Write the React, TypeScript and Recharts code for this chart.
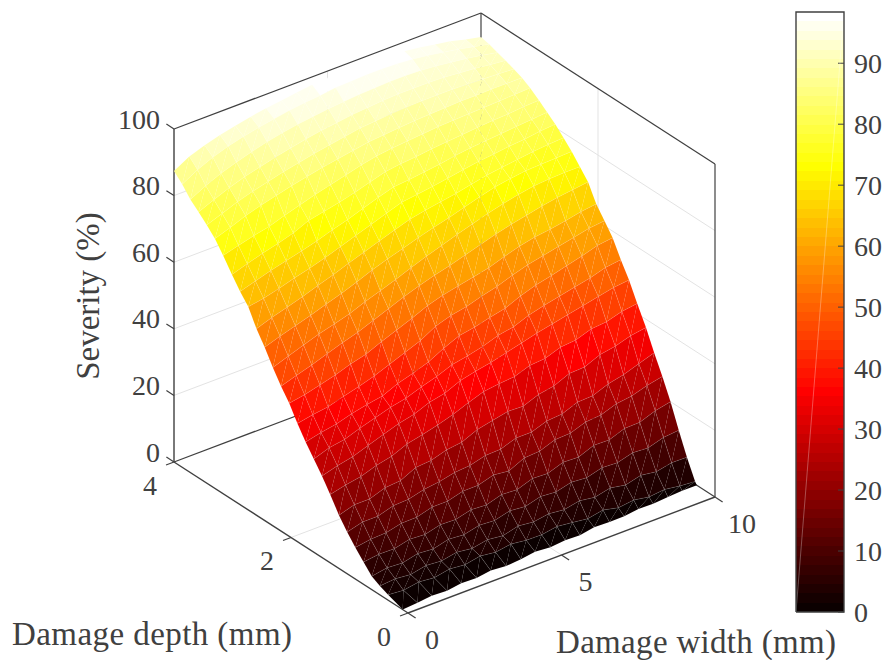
import { Bar, BarChart, Scatter, ScatterChart, XAxis, YAxis } from "recharts"

const FONT = "Liberation Serif"
const INK = "#404040"
const GRID = "#e3e3e3"

// damage width (mm), one per column of the surface
const widths = [0, 0.5, 1, 1.5, 2, 2.5, 3, 3.5, 4, 4.5, 5, 5.5, 6, 6.5, 7, 7.5, 8, 8.5, 9, 9.5, 10]
// damage depth (mm), one per row; the first row uses frontDepths instead
const depths = [0.2, 0.34, 0.48, 0.62, 0.76, 0.9, 1.04, 1.18, 1.33, 1.47, 1.61, 1.75, 1.89, 2.03, 2.17, 2.31, 2.45, 2.59, 2.73, 2.87, 3.01, 3.16, 3.3, 3.44, 3.58, 3.72, 3.86, 4]
const frontDepths = [0.09, 0.1, 0.12, 0.12, 0.14, 0.14, 0.16, 0.16, 0.17, 0.19, 0.19, 0.2, 0.21, 0.23, 0.23, 0.24, 0.26, 0.27, 0.28, 0.3, 0.31]

// severity (%), rows follow depths, columns follow widths
const severity = [
  [0, 0.2, 0.3, 0.1, 0.4, 0.2, 0.5, 0.1, 0.3, 0.6, 0.2, 0.4, 0.1, 0.5, 0.3, 0.2, 0.4, 0.1, 0.3, 0.2, 0],
  [1.6, 1.2, 2.0, 1.5, 2.4, 1.9, 2.8, 2.2, 2.9, 2.3, 2.2, 3.0, 2.4, 1.8, 2.7, 1.6, 2.2, 1.4, 1.9, 1.2, 0.8],
  [2.7, 3.1, 2.6, 3.6, 3.2, 4.1, 3.5, 4.4, 3.8, 5.0, 4.5, 5.2, 4.7, 5.6, 4.9, 6.0, 5.1, 6.3, 5.6, 6.6, 6.5],
  [4, 4.8, 4.5, 5.6, 5.2, 6.4, 6.0, 7.1, 6.8, 8.0, 7.5, 8.8, 8.4, 9.6, 9.2, 10.5, 10.2, 11.5, 11.2, 12.6, 13],
  [6.7, 7.3, 7.2, 8.3, 8.0, 9.2, 9.0, 10.2, 9.9, 11.3, 11, 12.6, 12.4, 14.0, 13.8, 15.6, 15.5, 17.2, 17.3, 19.0, 20],
  [9.5, 10.2, 10.4, 11.5, 11.6, 12.9, 12.9, 14.2, 14.2, 15.6, 15, 17.2, 17.5, 19.2, 19.4, 21.0, 21.4, 23.0, 23.6, 25.0, 26],
  [12.5, 13.8, 13.8, 15.2, 15.4, 16.6, 17.2, 18.2, 18.6, 19.8, 20, 21.6, 21.6, 23.2, 23.6, 25.4, 25.6, 27.4, 28.4, 30, 31.5],
  [16, 17.4, 17.4, 19, 19.4, 21.6, 22, 23.4, 24, 26, 27, 28, 27.8, 29.6, 30.4, 32.4, 32.6, 34.6, 35.4, 36.8, 37.5],
  [20.5, 21.6, 22.4, 24, 25, 27, 28, 29.2, 30.6, 32.4, 34, 34.6, 35, 36.6, 37, 38.6, 39, 40.6, 41, 42.4, 43],
  [24.5, 25.8, 26.8, 28.4, 30, 31.5, 32.6, 34.4, 35.4, 37.4, 38.5, 39.4, 40.6, 41.8, 43, 44, 45, 46, 47, 48, 48.5],
  [28, 29.6, 30.4, 32, 33.4, 34.8, 35.8, 37.4, 38.8, 40.6, 41.5, 42.6, 44.2, 45, 46.8, 48, 49, 50, 51, 52.4, 53],
  [31.5, 32.6, 33.4, 34.8, 35.8, 36.6, 38.6, 40, 41.6, 44, 46, 46.8, 48, 49, 51, 52.5, 53.6, 54.8, 56, 57.4, 58],
  [35.5, 36.4, 37, 38.4, 39.6, 41, 42.8, 44.6, 46.4, 49, 50.5, 51.4, 52.8, 54, 55.6, 57, 58, 59, 60, 61, 61.5],
  [40, 40.8, 42, 43.2, 44.8, 46, 48, 49.8, 51.6, 53.6, 55, 56, 57, 58, 59.6, 61, 62, 62.6, 63.4, 64.4, 65],
  [43.5, 45, 46.4, 48, 49.6, 51, 52.8, 54.6, 56.4, 58, 59.4, 60.6, 62, 63.4, 64.8, 66, 67, 68, 68.8, 69.4, 70],
  [47.5, 49.2, 50.8, 52.4, 53.6, 55, 56.8, 58.4, 60, 61.8, 63.5, 65, 66.6, 68, 69.4, 70.6, 71.6, 72.4, 72.8, 73, 73],
  [52, 53.6, 55, 56.4, 58, 59.5, 61.2, 63, 64.6, 66, 67.5, 68.8, 70, 71.4, 72.8, 74, 74.8, 75.4, 75.6, 75.8, 76],
  [56, 57.6, 59, 60.4, 62, 63.5, 65.2, 66.8, 68.4, 70, 71.5, 72.4, 73.2, 74, 75, 76, 76.6, 77.2, 77.8, 78.2, 78.5],
  [61, 61.8, 63, 64.4, 65.6, 67, 68.6, 70.2, 71.8, 73.4, 75, 75.6, 76.2, 77, 77.8, 78.5, 79, 79.6, 80, 80.6, 81],
  [64, 65.4, 66.8, 68, 69.2, 70.5, 72, 73.4, 75, 76.6, 78, 78.4, 79, 79.6, 80.4, 81, 81.4, 81.8, 82.2, 82.6, 83],
  [67.5, 69, 70.4, 71.6, 73, 75, 76, 77, 78.2, 79.6, 81, 81.6, 82, 82.6, 83, 83.4, 83.8, 84.2, 84.4, 84.8, 85],
  [71.5, 72.8, 74, 75, 76.6, 78, 79.4, 80.6, 81.8, 83, 84, 84.6, 85, 85.4, 85.8, 86, 86.2, 86.4, 86.6, 86.8, 87],
  [75, 76.6, 78.4, 79.8, 81, 82.2, 83.2, 84.2, 85, 85.8, 86.6, 87, 87.4, 87.8, 88, 88.2, 88.4, 88.4, 88.5, 88.5, 88.5],
  [77.5, 79.2, 81, 82.4, 83.6, 84.8, 85.8, 86.8, 87.6, 88.4, 89.2, 89.6, 90, 90.2, 90.4, 90.4, 90.4, 90.2, 90, 89.8, 89.5],
  [79.8, 81.8, 83.6, 85.2, 86.4, 87.6, 88.6, 89.6, 90.4, 91, 91.6, 92, 92.4, 92.6, 92.6, 92.6, 92.4, 92, 91.6, 91, 90.5],
  [82, 84.4, 86.4, 88, 89.4, 90.6, 91.6, 92.4, 93, 93.6, 94, 94.4, 94.6, 94.8, 94.8, 94.6, 94.2, 93.6, 93, 92.2, 91.3],
  [85, 87.6, 89.6, 91.2, 92.4, 93.4, 94.2, 95, 95.6, 96, 96.6, 96.8, 97, 97, 96.8, 96.4, 95.8, 95, 94.2, 93.2, 92.2],
  [87.4, 90, 91.6, 93, 94, 95, 95.8, 96.4, 97, 97.6, 98, 98.4, 98.4, 98.2, 97.8, 97.2, 96.6, 95.8, 95, 93.8, 92.8],
]

const widthTicks = [0, 5, 10]
const depthTicks = [0, 2, 4]
const severityTicks = [0, 20, 40, 60, 80, 100]
const colorbarTicks = [0, 10, 20, 30, 40, 50, 60, 70, 80, 90]
const colorbarMax = 98.4
const LEVELS = 64

// MATLAB hot(64)
const hotColor = (i: number) => {
  const n = 24
  const r = Math.min(1, (i + 1) / n)
  const g = Math.min(1, Math.max(0, (i + 1 - n) / n))
  const b = Math.min(1, Math.max(0, (i + 1 - 2 * n) / (LEVELS - 2 * n)))
  return `rgb(${Math.round(r * 255)},${Math.round(g * 255)},${Math.round(b * 255)})`
}
const colorOf = (z: number) => hotColor(Math.min(LEVELS - 1, Math.floor((z / colorbarMax) * LEVELS)))

// orthographic view of the axes box: pixels per mm / per %
const project = (w: number, d: number, z: number) => ({
  px: 408 + 30.7 * w - 58.5 * d,
  py: 613 - 11.6 * w - 37.75 * d - 3.33 * z,
})

const vertices = severity.flatMap((row, j) =>
  row.map((z, i) => project(widths[i], j === 0 ? frontDepths[i] : depths[j], z)),
)

// The scatter hands us the vertices in pixels, so the mesh goes through the chart's scales
const SurfaceMesh = (props: any) => {
  const pts = props.points as { x: number; y: number }[]
  const nw = widths.length
  const nd = depths.length
  const at = (i: number, j: number) => pts[j * nw + i]
  const cells: any[] = []
  for (let j = nd - 2; j >= 0; j--) {
    for (let i = nw - 2; i >= 0; i--) {
      const a = at(i, j)
      const b = at(i + 1, j)
      const c = at(i + 1, j + 1)
      const d = at(i, j + 1)
      const z = (severity[j][i] + severity[j][i + 1] + severity[j + 1][i + 1] + severity[j + 1][i]) / 4
      const fill = colorOf(z)
      cells.push(
        <polygon key={`${j}-${i}-a`} points={`${a.x},${a.y} ${b.x},${b.y} ${c.x},${c.y}`} fill={fill} />,
        <polygon key={`${j}-${i}-b`} points={`${a.x},${a.y} ${c.x},${c.y} ${d.x},${d.y}`} fill={fill} />,
      )
    }
  }
  // the light hairlines between facets, interior edges only
  let seams = ""
  for (let j = 1; j < nd - 1; j++) {
    seams += "M" + widths.map((_, i) => `${at(i, j).x},${at(i, j).y}`).join("L")
  }
  for (let i = 1; i < nw - 1; i++) {
    seams += "M" + depths.map((_, j) => `${at(i, j).x},${at(i, j).y}`).join("L")
  }
  return (
    <g>
      {cells}
      <path d={seams} fill="none" stroke="#fff" strokeOpacity={0.22} strokeWidth={0.6} />
    </g>
  )
}

const NoPoint = () => <g />

const Label = (props: any) => {
  const { cx, cy, payload } = props
  const { text, dx = 0, dy = 0, anchor = "middle", size = 28, rotate, length } = payload
  const x = cx + dx
  const y = cy + dy
  return (
    <text
      x={x}
      y={y}
      textAnchor={anchor}
      dominantBaseline="central"
      fontFamily={FONT}
      fontSize={size}
      fill={INK}
      textLength={length}
      transform={rotate ? `rotate(${rotate} ${x} ${y})` : undefined}
    >
      {text}
    </text>
  )
}

type P3 = [number, number, number]
const line = (a: P3, b: P3, stroke: string, strokeWidth = 1) => (
  <Scatter
    key={`${a}-${b}`}
    data={[project(...a), project(...b)]}
    dataKey="py"
    line={{ stroke, strokeWidth }}
    shape={NoPoint}
    isAnimationActive={false}
  />
)

const gridZ = severityTicks.slice(1, -1)

const gridLines = [
  ...gridZ.map((z) => line([0, 4, z], [10, 4, z], GRID)),
  ...gridZ.map((z) => line([10, 4, z], [10, 0, z], GRID)),
  line([5, 4, 0], [5, 4, 100], GRID),
  line([10, 2, 0], [10, 2, 100], GRID),
  line([5, 0, 0], [5, 4, 0], GRID),
  line([0, 2, 0], [10, 2, 0], GRID),
]

const boxLines = [
  line([10, 4, 0], [10, 4, 100], INK, 1.2),
  line([0, 4, 0], [10, 4, 0], INK, 1.2),
  line([10, 4, 0], [10, 0, 0], INK, 1.2),
  line([0, 4, 100], [10, 4, 100], INK, 1.2),
  line([10, 4, 100], [10, 0, 100], INK, 1.2),
  line([10, 0, 100], [10, 0, 0], INK, 1.2),
  line([0, 4, 0], [0, 4, 100], INK, 1.4),
  line([0, 0, 0], [10, 0, 0], INK, 1.4),
  line([0, 0, 0], [0, 4, 0], INK, 1.4),
]

const tickLines = [
  ...severityTicks.map((z) => line([0, 4, z], [0, 4.13, z], INK, 1.2)),
  ...depthTicks.map((d) => line([0, d, 0], [-0.26, d, 0], INK, 1.2)),
  ...widthTicks.map((w) => line([w, 0, 0], [w, -0.13, 0], INK, 1.2)),
]

const tickLabels = [
  ...severityTicks.map((z) => ({ ...project(0, 4, z), text: String(z), dx: -14, dy: -10, anchor: "end" })),
  ...depthTicks.map((d) => ({ ...project(0, d, 0), text: String(d), dx: -24, dy: 23 })),
  ...widthTicks.map((w) => ({ ...project(w, 0, 0), text: String(w), dx: w === 10 ? 27 : 24, dy: 26 })),
]

const titles = [
  { px: 12, py: 634, text: "Damage depth (mm)", anchor: "start", size: 33, length: 280 },
  { px: 556, py: 642, text: "Damage width (mm)", anchor: "start", size: 33, length: 280 },
  { px: 88, py: 296, text: "Severity (%)", size: 33, rotate: -90 },
]

const levelKeys = Array.from({ length: LEVELS }, (_, i) => `level${i}`)
const colorbarRow: Record<string, number | string> = { name: "severity" }
levelKeys.forEach((k) => {
  colorbarRow[k] = colorbarMax / LEVELS
})

const colorbarFrame = [
  { u: 0, v: 0 },
  { u: 1, v: 0 },
  { u: 1, v: colorbarMax },
  { u: 0, v: colorbarMax },
  { u: 0, v: 0 },
]
const colorbarSeam = [
  { u: 0, v: 0 },
  { u: 1, v: colorbarMax },
]
const colorbarMargin = { top: 4, right: 0, bottom: 16, left: 4 }

export default function App() {
  return (
    <div style={{ position: "absolute", left: 0, top: 0, width: 886, height: 660, background: "#fff" }}>
      <div style={{ position: "absolute", left: 0, top: 0 }}>
        <ScatterChart width={886} height={660} margin={{ top: 0, right: 0, bottom: 0, left: 0 }}>
          <XAxis type="number" dataKey="px" domain={[0, 886]} hide />
          <YAxis type="number" dataKey="py" domain={[0, 660]} reversed hide />
          {gridLines}
          {boxLines}
          <Scatter data={vertices} dataKey="py" line={SurfaceMesh} shape={NoPoint} isAnimationActive={false} />
          {tickLines}
          <Scatter data={tickLabels} dataKey="py" shape={Label} isAnimationActive={false} />
          <Scatter data={titles} dataKey="py" shape={Label} isAnimationActive={false} />
        </ScatterChart>
      </div>
      <div style={{ position: "absolute", left: 792, top: 8 }}>
        <BarChart width={94} height={620} data={[colorbarRow]} margin={colorbarMargin} barCategoryGap={0}>
          <XAxis dataKey="name" hide />
          <YAxis
            orientation="right"
            width={42}
            domain={[0, colorbarMax]}
            ticks={colorbarTicks}
            interval={0}
            tickSize={-6}
            tickMargin={16}
            tick={{ fontSize: 28, fontFamily: FONT, fill: INK }}
            tickLine={{ stroke: INK }}
            axisLine={false}
          />
          {levelKeys.map((k, i) => (
            <Bar key={k} dataKey={k} stackId="cb" fill={hotColor(i)} shapeRendering="crispEdges" isAnimationActive={false} />
          ))}
        </BarChart>
      </div>
      {/* frame and seam of the colorbar, on the same plot area */}
      <div style={{ position: "absolute", left: 792, top: 8 }}>
        <ScatterChart width={94} height={620} margin={{ ...colorbarMargin, right: 42 }}>
          <XAxis type="number" dataKey="u" domain={[0, 1]} hide />
          <YAxis type="number" dataKey="v" domain={[0, colorbarMax]} hide />
          <Scatter data={colorbarSeam} line={{ stroke: "#fff", strokeWidth: 1, strokeOpacity: 0.3 }} shape={NoPoint} isAnimationActive={false} />
          <Scatter data={colorbarFrame} line={{ stroke: INK, strokeWidth: 1.4 }} shape={NoPoint} isAnimationActive={false} />
        </ScatterChart>
      </div>
    </div>
  )
}
